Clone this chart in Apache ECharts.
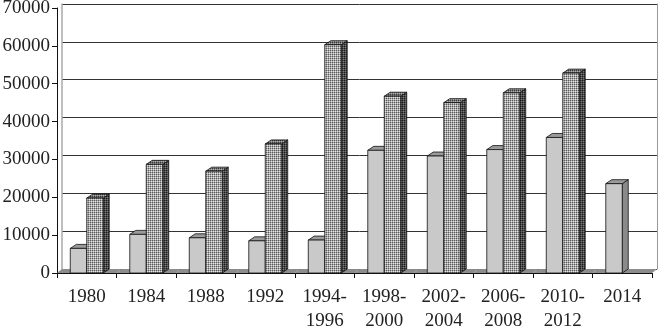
<!DOCTYPE html>
<html>
<head>
<meta charset="utf-8">
<script src="https://cdn.jsdelivr.net/npm/echarts@6/dist/echarts.min.js"></script>
<style>
  html, body { margin: 0; padding: 0; background: #fff; }
  #chart { width: 659px; height: 329px; }
</style>
</head>
<body>
<div id="chart"></div>
<script>
// data
const categories = ['1980', '1984', '1988', '1992', '1994-\n1996', '1998-\n2000', '2002-\n2004', '2006-\n2008', '2010-\n2012', '2014'];
const seriesA = [6500, 10200, 9300, 8500, 8700, 32400, 30900, 32600, 35800, 23600];
const seriesB = [19800, 28700, 26900, 34100, 60300, 46700, 45000, 47600, 52800, 0];
const yMin = 0, yMax = 70000, yStep = 10000;

const DX = 6, DY = 4; // bar depth
const WX = 5, WY = 4; // wall / floor depth
const FONT = 'Liberation Serif';

// 2x2 dotted texture like the print
function makePattern(c00, c10, c11) {
  const c = document.createElement('canvas');
  c.width = 2; c.height = 2;
  const g = c.getContext('2d');
  g.fillStyle = c10; g.fillRect(0, 0, 2, 2);
  g.fillStyle = c00; g.fillRect(0, 0, 1, 1);
  g.fillStyle = c11; g.fillRect(1, 1, 1, 1);
  return { image: c, repeat: 'repeat' };
}

function bar3d(slot, front, top, side) {
  return function (params, api) {
    const v = api.value(1);
    if (!v) return null;
    const base = api.coord([api.value(0), 0]);
    const tp = api.coord([api.value(0), v]);
    const w = api.size([1, 0])[0];
    const bw = w * 0.277;
    const x0 = base[0] - bw + slot * bw;
    const x1 = x0 + bw;
    const y0 = tp[1], y1 = base[1];
    const st = { stroke: '#111', lineWidth: 0.8 };
    return {
      type: 'group',
      children: [
        { type: 'polygon', shape: { points: [[x1, y1], [x1 + DX, y1 - DY], [x1 + DX, y0 - DY], [x1, y0]] }, style: Object.assign({ fill: side }, st) },
        { type: 'polygon', shape: { points: [[x0, y0], [x0 + DX, y0 - DY], [x1 + DX, y0 - DY], [x1, y0]] }, style: Object.assign({ fill: top }, st) },
        { type: 'rect', shape: { x: x0, y: y0, width: bw, height: y1 - y0 }, style: Object.assign({ fill: front }, st) }
      ]
    };
  };
}

function floorItem(params, api) {
  const base = api.coord([api.value(0), 0]);
  const w = api.size([1, 0])[0];
  const xa = base[0] - w / 2, xb = base[0] + w / 2, y = base[1];
  return {
    type: 'polygon',
    shape: { points: [[xa, y], [xb, y], [xb + WX, y - WY], [xa + WX, y - WY]] },
    style: { fill: '#8c8c8c' }
  };
}

const myChart = echarts.init(document.getElementById('chart'), null, { renderer: 'canvas' });

const option = {
  animation: false,
  backgroundColor: '#fff',
  grid: [
    { left: 57, right: 7, top: 8, bottom: 56, outerBoundsMode: 'none', containLabel: false },
    { left: 57 + WX, right: 7 - WX, top: 8 - WY, bottom: 56 + WY, outerBoundsMode: 'none', containLabel: false }
  ],
  xAxis: [
    {
      type: 'category', data: categories, gridIndex: 0,
      axisLine: { lineStyle: { color: '#111', width: 1 } },
      axisTick: { show: true, length: 5, lineStyle: { color: '#111' } },
      axisLabel: { color: '#222', fontFamily: FONT, fontSize: 19, lineHeight: 24, margin: 12, interval: 0 }
    },
    { type: 'category', data: categories, gridIndex: 1, show: false }
  ],
  yAxis: [
    {
      type: 'value', gridIndex: 0, min: yMin, max: yMax, interval: yStep,
      axisLine: { show: true, lineStyle: { color: '#111', width: 1 } },
      axisTick: { show: true, length: 5, lineStyle: { color: '#111' } },
      axisLabel: { color: '#222', fontFamily: FONT, fontSize: 19, margin: 7, formatter: (v) => String(v) },
      splitLine: { show: false }
    },
    {
      type: 'value', gridIndex: 1, min: yMin, max: yMax, interval: yStep,
      axisLine: { show: true, lineStyle: { color: '#aaa', width: 1.5 } },
      axisTick: { show: false }, axisLabel: { show: false },
      splitLine: { show: true, lineStyle: { color: '#333', width: 1 } }
    },
    {
      type: 'value', gridIndex: 1, position: 'right', min: yMin, max: yMax, interval: yStep,
      axisLine: { show: true, lineStyle: { color: '#999', width: 1 } },
      axisTick: { show: false }, axisLabel: { show: false }, splitLine: { show: false }
    }
  ],
  series: [
    {
      type: 'custom', xAxisIndex: 0, yAxisIndex: 0, z: 1,
      renderItem: floorItem,
      data: categories.map((c, i) => [i, 0])
    },
    {
      type: 'custom', xAxisIndex: 0, yAxisIndex: 0, z: 3,
      renderItem: bar3d(0, '#c9c9c9', '#9a9a9a', '#8a8a8a'),
      data: seriesA.map((v, i) => [i, v])
    },
    {
      type: 'custom', xAxisIndex: 0, yAxisIndex: 0, z: 3,
      renderItem: bar3d(1, makePattern('#5a5a5a', '#a8a8a8', '#e2e2e2'), makePattern('#3a3a3a', '#7a7a7a', '#b0b0b0'), makePattern('#1e1e1e', '#4a4a4a', '#7a7a7a')),
      data: seriesB.map((v, i) => [i, v])
    }
  ]
};

myChart.setOption(option);
</script>
</body>
</html>
